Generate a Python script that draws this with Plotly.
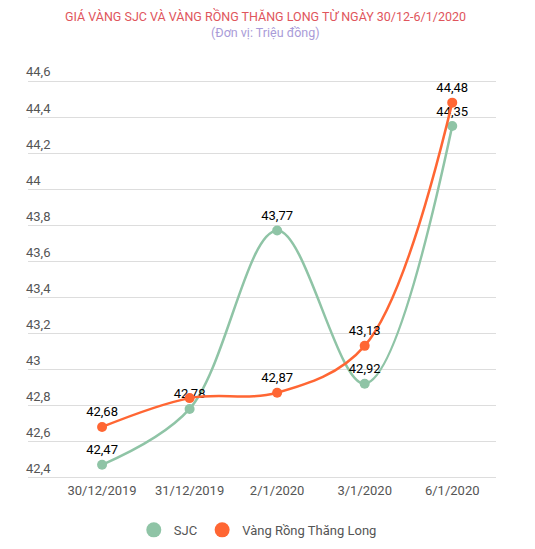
import plotly.graph_objects as go

# dữ liệu giá vàng (triệu đồng)
dates = ["30/12/2019", "31/12/2019", "2/1/2020", "3/1/2020", "6/1/2020"]
sjc = [42.47, 42.78, 43.77, 42.92, 44.35]
rong_thang_long = [42.68, 42.84, 42.87, 43.13, 44.48]
sjc_labels = ["42,47", "42,78", "43,77", "42,92", "44,35"]
rtl_labels = ["42,68", "", "42,87", "43,13", "44,48"]

green = "#8fc4a6"
orange = "#ff6633"

fig = go.Figure()

fig.add_trace(
    go.Scatter(
        x=dates,
        y=sjc,
        mode="lines+markers+text",
        line=dict(color=green, width=2.5, shape="spline", smoothing=1.0),
        marker=dict(color=green, size=10),
        text=sjc_labels,
        textposition="top center",
        textfont=dict(color="#000000", size=13),
        showlegend=False,
        cliponaxis=False,
    )
)
fig.add_trace(
    go.Scatter(
        x=dates,
        y=rong_thang_long,
        mode="lines+markers+text",
        line=dict(color=orange, width=2.5, shape="spline", smoothing=1.0),
        marker=dict(color=orange, size=10),
        text=rtl_labels,
        textposition="top center",
        textfont=dict(color="#000000", size=13),
        showlegend=False,
        cliponaxis=False,
    )
)

# legend chỉ có chấm tròn
fig.add_trace(go.Scatter(x=[None], y=[None], mode="markers", name="SJC",
                         marker=dict(color=green, size=15)))
fig.add_trace(go.Scatter(x=[None], y=[None], mode="markers", name="Vàng Rồng Thăng Long",
                         marker=dict(color=orange, size=15)))

# trang html có lề 8px nên hình nhỏ hơn cửa sổ một chút
fig.update_layout(
    width=519,
    height=533,
    margin=dict(l=20, r=31, t=55, b=60, autoexpand=False),
    paper_bgcolor="white",
    plot_bgcolor="white",
    font=dict(family="Roboto", size=13, color="#555555"),
    separators=", ",
    legend=dict(
        orientation="h",
        x=0.491,
        xanchor="center",
        y=-0.117,
        yanchor="middle",
        itemwidth=30,
        font=dict(size=13, color="#555555"),
    ),
    annotations=[
        dict(
            text="GIÁ VÀNG SJC VÀ VÀNG RỒNG THĂNG LONG TỪ NGÀY 30/12-6/1/2020",
            x=0.508, y=1.112, xref="paper", yref="paper",
            xanchor="center", yanchor="middle", showarrow=False,
            font=dict(size=12.5, color="#e0555c"),
        ),
        dict(
            text="(Đơn vị: Triệu đồng)",
            x=0.508, y=1.074, xref="paper", yref="paper",
            xanchor="center", yanchor="middle", showarrow=False,
            font=dict(size=12.5, color="#a99bd8"),
        ),
    ],
)

fig.update_xaxes(
    range=[-0.846, 4.5],
    showgrid=False,
    showline=False,
    zeroline=False,
    automargin=False,
    ticks="",
    tickfont=dict(size=13, color="#555555"),
)
fig.update_yaxes(
    range=[42.38, 44.7],
    dtick=0.2,
    tick0=42.4,
    showgrid=True,
    gridcolor="#dddddd",
    gridwidth=1,
    zeroline=False,
    automargin=False,
    ticks="",
    ticklabelposition="inside top",
    ticklabelstandoff=-5,
    tickformat=",.1~f",
    tickfont=dict(size=13, color="#555555"),
)

fig.write_html("out.html")
